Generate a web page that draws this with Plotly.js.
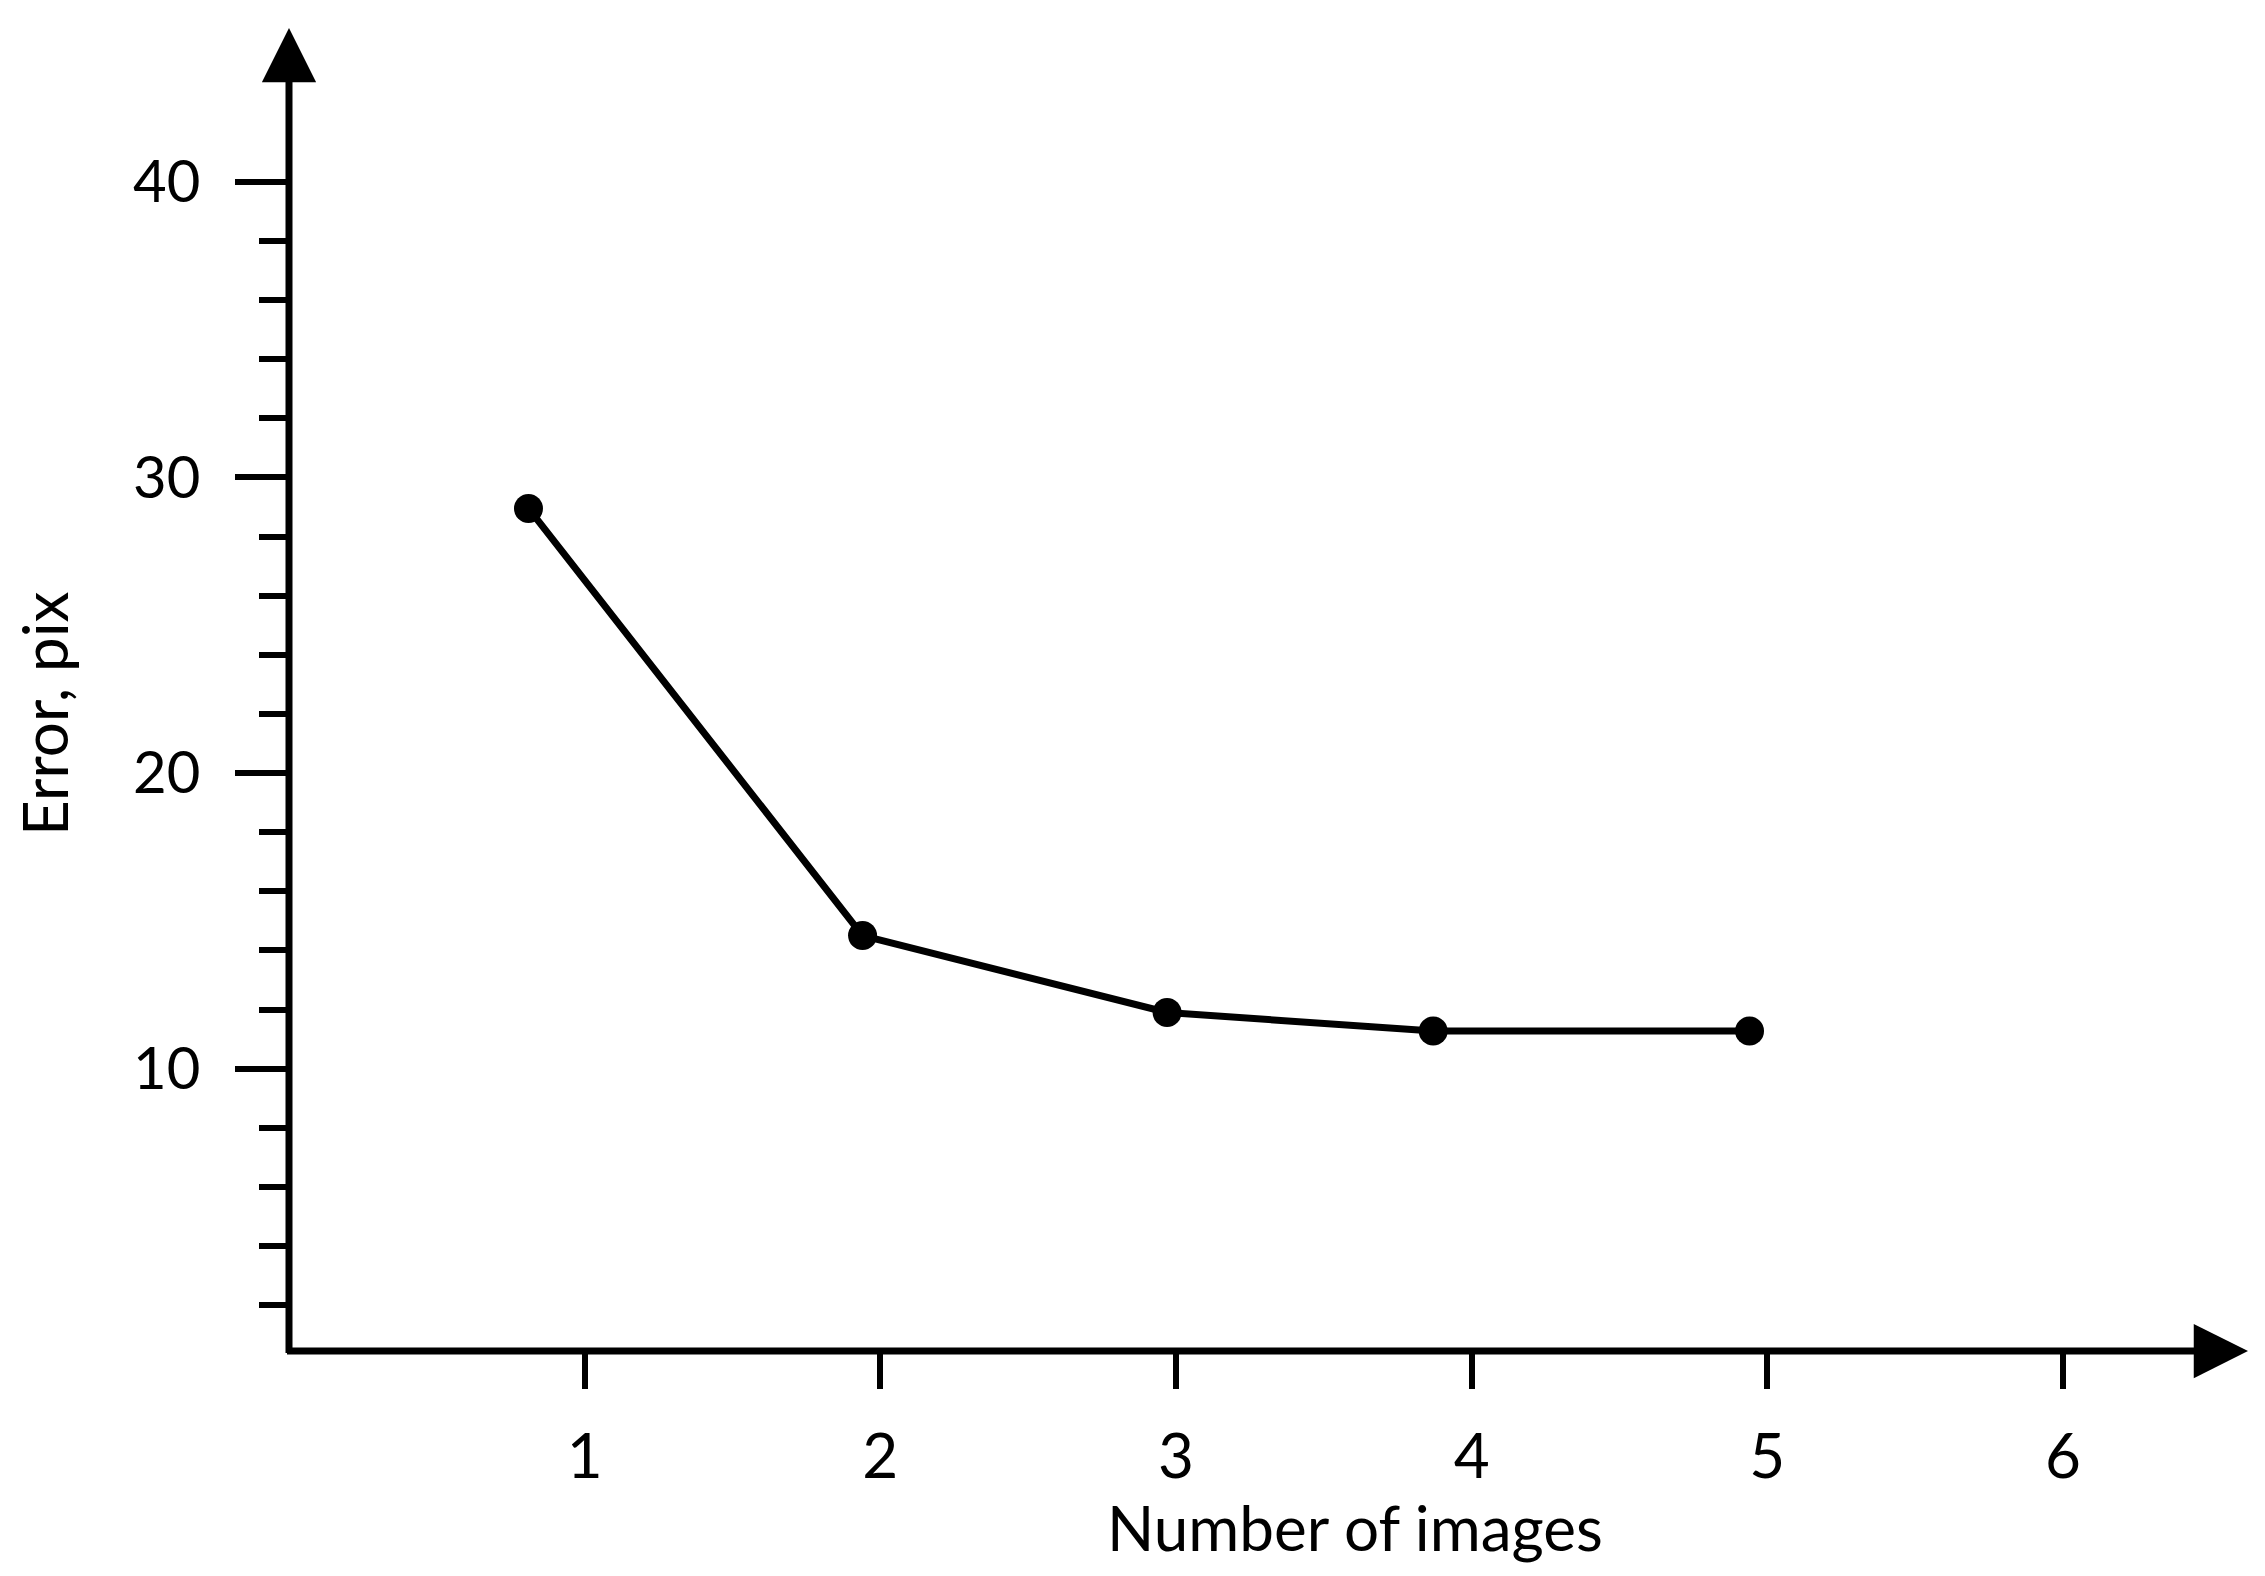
<!DOCTYPE html>
<html>
<head>
<meta charset="utf-8">
<script src="https://cdn.plot.ly/plotly-3.0.1.min.js"></script>
<style>
  html, body { margin: 0; padding: 0; background: #fff; }
  #chart { width: 2265px; height: 1576px; }
</style>
</head>
<body>
<div id="chart"></div>
<script>
'use strict';

// data
const imageCount = [0.81, 1.94, 2.97, 3.87, 4.94];
const errorPix = [28.95, 14.5, 11.9, 11.27, 11.27];

const xTicks = [1, 2, 3, 4, 5, 6];
const yTicks = [10, 20, 30, 40];
const yMinorTicks = [2, 4, 6, 8, 12, 14, 16, 18, 22, 24, 26, 28, 32, 34, 36, 38];

const FONT = 'Lato, "Open Sans", sans-serif';
const INK = '#000';

const W = 2265, H = 1576;
const M = { l: 289, r: 17, t: 28, b: 225 };
const plotW = W - M.l - M.r, plotH = H - M.t - M.b;
const AXW = 7; // axis stroke

const trace = {
  type: 'scatter', mode: 'lines+markers',
  x: imageCount, y: errorPix,
  line: { color: INK, width: 7 },
  marker: { color: INK, size: 29 },
  cliponaxis: false,
  hoverinfo: 'x+y',
};

// axes drawn as arrows: tip on the far plot edge, tail on the origin corner
const axisArrow = (x, y, ax, ay) => ({
  xref: 'paper', yref: 'paper', x, y, ax, ay, text: '',
  showarrow: true, arrowhead: 2, arrowsize: 1.55, arrowwidth: AXW,
  arrowcolor: INK, standoff: 0,
});

const titleFont = { family: FONT, size: 62, color: INK };

const layout = {
  width: W, height: H,
  paper_bgcolor: '#fff', plot_bgcolor: '#fff',
  margin: M,
  showlegend: false,
  font: { family: FONT, color: INK },
  xaxis: {
    range: [0, 6.626], showgrid: false, zeroline: false, showline: false,
    tickmode: 'array', tickvals: xTicks,
    ticks: 'outside', ticklen: 37, tickwidth: 6, tickcolor: INK,
    ticklabelstandoff: 15,
    tickfont: { family: FONT, size: 62, color: INK },
  },
  yaxis: {
    range: [0.45, 45.2], showgrid: false, zeroline: false, showline: false,
    tickmode: 'array', tickvals: yTicks,
    ticks: 'outside', ticklen: 53, tickwidth: 6, tickcolor: INK,
    ticklabelstandoff: 23,
    tickfont: { family: FONT, size: 58, color: INK },
    minor: { tickmode: 'array', tickvals: yMinorTicks, ticks: 'outside', ticklen: 29, tickwidth: 6, tickcolor: INK, showgrid: false },
  },
  annotations: [
    axisArrow(0, 1, 0, plotH + AXW / 2),
    axisArrow(1, 0, -(plotW + AXW / 2), 0),
    // axis titles (off-centre in the reference, so placed as annotations)
    { xref: 'paper', yref: 'paper', x: 0.544, y: 0, yshift: -176, xanchor: 'center', yanchor: 'middle',
      text: 'Number of images', showarrow: false, font: titleFont },
    { xref: 'paper', yref: 'paper', x: 0, y: 0.4815, xshift: -245, xanchor: 'center', yanchor: 'middle',
      textangle: -90, text: 'Error, pix', showarrow: false, font: titleFont },
  ],
};

Plotly.newPlot('chart', [trace], layout, { displayModeBar: false, staticPlot: true });
</script>
</body>
</html>
